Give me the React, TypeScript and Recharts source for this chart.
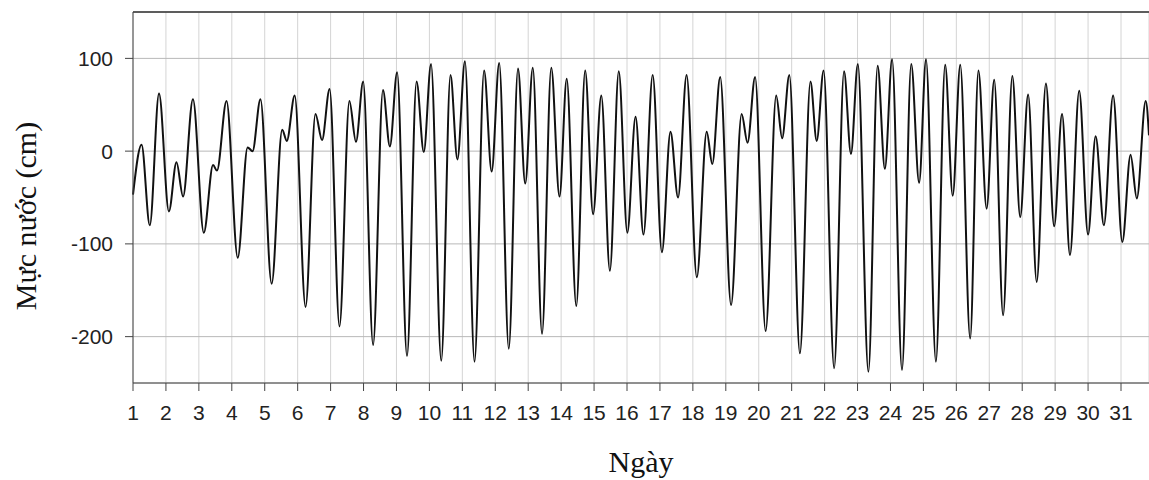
import { LineChart, Line, XAxis, YAxis, CartesianGrid, ReferenceLine } from "recharts";

// high / low water times (fractional day of month) and levels in cm
const days = [
  1.0, 1.26, 1.51, 1.79, 2.09, 2.32, 2.52, 2.82, 3.15, 3.43, 3.55, 3.84, 4.18, 4.48, 4.63, 4.87,
  5.21, 5.53, 5.67, 5.91, 6.24, 6.54, 6.74, 6.97, 7.27, 7.57, 7.77, 7.99, 8.29, 8.59, 8.8, 9.02,
  9.32, 9.61, 9.83, 10.05, 10.36, 10.64, 10.85, 11.08, 11.37, 11.66, 11.89, 12.12, 12.41, 12.69,
  12.91, 13.14, 13.42, 13.7, 13.95, 14.17, 14.46, 14.73, 14.97, 15.22, 15.48, 15.75, 16.01, 16.26,
  16.5, 16.78, 17.06, 17.32, 17.55, 17.81, 18.12, 18.42, 18.59, 18.83, 19.16, 19.48, 19.66, 19.89,
  20.21, 20.53, 20.71, 20.93, 21.25, 21.57, 21.76, 21.97, 22.29, 22.59, 22.8, 23.01, 23.33, 23.61,
  23.83, 24.05, 24.35, 24.63, 24.87, 25.08, 25.38, 25.66, 25.89, 26.12, 26.42, 26.67, 26.92, 27.15,
  27.42, 27.7, 27.94, 28.18, 28.44, 28.72, 28.97, 29.21, 29.45, 29.73, 30.0, 30.23, 30.48, 30.76,
  31.04, 31.29, 31.48, 31.75, 31.85,
];

const levels = [
  -47, 7, -80, 62, -65, -12, -49, 56, -88, -15, -21, 54, -115, 4, 0, 56,
  -143, 23, 11, 60, -168, 40, 12, 67, -189, 54, 10, 75, -209, 66, 5, 85,
  -221, 75, -1, 94, -226, 82, -9, 97, -227, 87, -22, 95, -213, 89,
  -35, 90, -197, 90, -49, 78, -167, 87, -68, 60, -129, 86, -88, 37,
  -90, 82, -109, 21, -50, 82, -136, 21, -14, 80, -166, 40, 9, 80,
  -194, 60, 14, 82, -218, 75, 11, 87, -234, 86, -3, 94, -238, 92,
  -19, 99, -236, 94, -34, 99, -227, 93, -48, 93, -202, 87, -62, 77,
  -177, 81, -71, 61, -141, 73, -81, 40, -112, 65, -90, 16, -80, 60,
  -98, -4, -51, 54, 17,
];

const dayTicks = Array.from({ length: 31 }, (_, i) => i + 1);
const levelTicks = [-200, -100, 0, 100];

const data = days.map((d, i) => ({ day: d, level: levels[i] }));

const sans = "'Liberation Sans', Arial, sans-serif";
const serif = "'Liberation Serif', 'Times New Roman', serif";

export default function App() {
  return (
    <div style={{ position: "absolute", left: 0, top: 0, width: 1149, height: 480, background: "#fff" }}>
      <LineChart width={1149} height={480} data={data} margin={{ top: 12, right: 0, bottom: 0, left: 0 }}>
        <CartesianGrid horizontal={false} stroke="#d4d4d4" verticalPoints={undefined} />
        <CartesianGrid vertical={false} stroke="#b8b8b8" />
        <XAxis
          dataKey="day"
          type="number"
          domain={[1, 31.85]}
          ticks={dayTicks}
          interval={0}
          height={97}
          tickSize={8}
          tickMargin={14}
          stroke="#444"
          tick={{ fill: "#222", fontSize: 21, fontFamily: sans }}
          label={{
            content: () => (
              <text x={641} y={472} textAnchor="middle" fontFamily={serif} fontSize={30} fill="#111">
                Ngày
              </text>
            ),
          }}
        />
        <YAxis
          type="number"
          domain={[-250, 150]}
          ticks={levelTicks}
          width={133}
          tickSize={8}
          tickMargin={12}
          stroke="#444"
          tick={{ fill: "#222", fontSize: 21, fontFamily: sans }}
          label={{
            content: () => (
              <text
                x={0}
                y={0}
                transform="translate(36 216) rotate(-90)"
                textAnchor="middle"
                fontFamily={serif}
                fontSize={30}
                fill="#111"
              >
                Mực nước (cm)
              </text>
            ),
          }}
        />
        <ReferenceLine y={150} stroke="#333" strokeWidth={1.5} />
        <Line
          type="monotone"
          dataKey="level"
          stroke="#111"
          strokeWidth={2}
          dot={false}
          isAnimationActive={false}
        />
      </LineChart>
    </div>
  );
}
